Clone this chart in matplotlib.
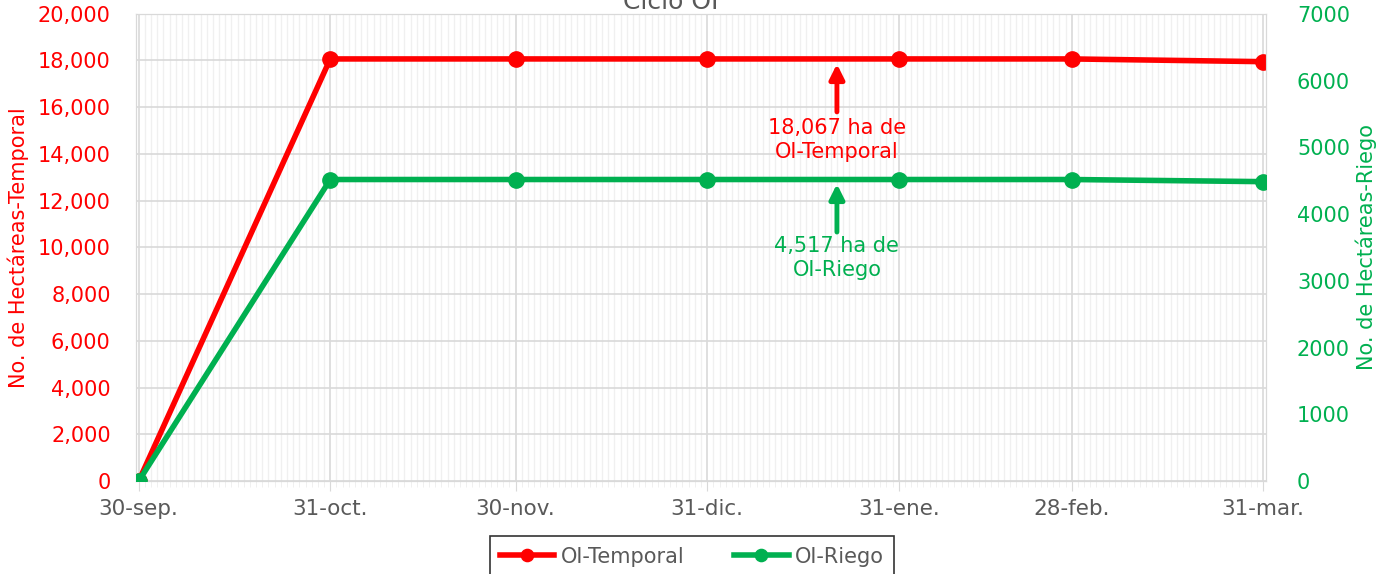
import numpy as np
import pandas as pd
import matplotlib.pyplot as plt
import matplotlib.dates as mdates
from matplotlib.ticker import FuncFormatter, MultipleLocator

plt.rcParams['font.family'] = ['DejaVu Sans']

# data
fechas = pd.to_datetime(['2022-09-30', '2022-10-31', '2022-11-30', '2022-12-31',
                         '2023-01-31', '2023-02-28', '2023-03-31'])
etiquetas = ['30-sep.', '31-oct.', '30-nov.', '31-dic.', '31-ene.', '28-feb.', '31-mar.']
temporal = [0, 18067, 18067, 18067, 18067, 18067, 17950]
riego = [0, 4517, 4517, 4517, 4517, 4517, 4485]

rojo = '#FF0000'
verde = '#00B050'
gris = '#595959'

fig = plt.figure(figsize=(13.84, 5.74), dpi=100)
ax = fig.add_axes([0.098, 0.162, 0.817, 0.814])
ax2 = ax.twinx()

l1, = ax.plot(fechas, temporal, color=rojo, lw=4, marker='o', ms=11, label='OI-Temporal', zorder=3)
l2, = ax2.plot(fechas, riego, color=verde, lw=4, marker='o', ms=11, label='OI-Riego', zorder=3)

ax.set_xlim(fechas[0] - pd.Timedelta(days=0.5), fechas[-1] + pd.Timedelta(days=0.5))
ax.set_ylim(0, 20000)
ax2.set_ylim(0, 7000)

ax.yaxis.set_major_locator(MultipleLocator(2000))
ax.yaxis.set_major_formatter(FuncFormatter(lambda v, p: f'{int(v):,}'))
ax2.yaxis.set_major_locator(MultipleLocator(1000))

ax.set_xticks(fechas)
ax.set_xticklabels(etiquetas)
ax.xaxis.set_minor_locator(mdates.DayLocator())

# grid
ax.grid(which='minor', axis='x', color='#f0f0f0', lw=1)
ax.grid(which='major', axis='x', color='#d9d9d9', lw=1.2)
ax.grid(which='major', axis='y', color='#d9d9d9', lw=1.2)
ax.set_axisbelow(True)

for a in (ax, ax2):
    for s in a.spines.values():
        s.set_color('#d9d9d9')

ax.tick_params(axis='x', which='major', colors='#d9d9d9', length=7, labelcolor=gris, labelsize=15.5, pad=6)
ax.tick_params(axis='x', which='minor', colors='#eeeeee', length=4)
ax.tick_params(axis='y', length=0, labelcolor=rojo, labelsize=15, pad=18)
ax2.tick_params(axis='y', length=0, labelcolor=verde, labelsize=15, pad=22)

ax.set_ylabel('No. de Hectáreas-Temporal', color=rojo, fontsize=15)
ax2.set_ylabel('No. de Hectáreas-Riego', color=verde, fontsize=15)
ax.yaxis.set_label_coords(-0.094, 0.5)
ax2.yaxis.set_label_coords(1.079, 0.5)

fig.text(0.485, 0.997, 'Ciclo OI', ha='center', va='center', fontsize=18, color=gris)

# annotations
x_ann = pd.Timestamp('2023-01-21')
flecha = dict(arrowstyle='-|>', lw=3.5, mutation_scale=22, shrinkA=0, shrinkB=0)
ax.annotate('', xy=(x_ann, 17850), xytext=(x_ann, 15800),
            arrowprops=dict(flecha, color=rojo))
ax.text(x_ann, 14600, '18,067 ha de\nOI-Temporal', ha='center', va='center',
        color=rojo, fontsize=15, linespacing=1.25)
ax2.annotate('', xy=(x_ann, 4450), xytext=(x_ann, 3730),
             arrowprops=dict(flecha, color=verde))
ax2.text(x_ann, 3340, '4,517 ha de\nOI-Riego', ha='center', va='center',
         color=verde, fontsize=15, linespacing=1.25)

leg = fig.legend(handles=[l1, l2], loc='center', bbox_to_anchor=(0.5, 0.030), ncol=2,
                 fontsize=15, frameon=True, fancybox=False, edgecolor='black',
                 handlelength=2.6, handletextpad=0.3, columnspacing=2.4,
                 borderpad=0.5, borderaxespad=0, markerscale=0.8)
for t in leg.get_texts():
    t.set_color(gris)
leg.get_frame().set_linewidth(1.2)
# widen the frame a bit on both sides
fig.canvas.draw()
bb = leg.get_frame().get_bbox()
leg.get_frame().set_bounds(bb.x0 - 25, bb.y0, bb.width + 50, bb.height)

fig.savefig('out.png', dpi=100)
